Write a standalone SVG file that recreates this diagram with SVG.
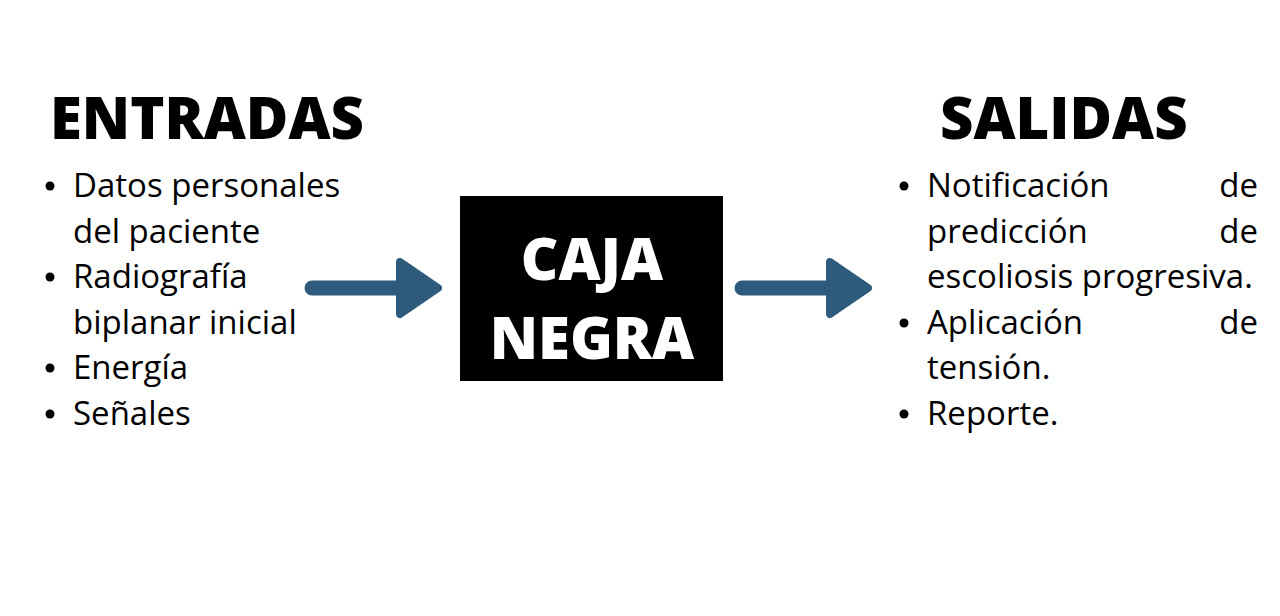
<svg xmlns="http://www.w3.org/2000/svg" width="1280" height="616" viewBox="0 0 1280 616">
<style>
.h{font-family:"Open Sans","Liberation Sans",sans-serif;font-weight:800;font-size:58px;fill:#000}
.t{font-family:"Open Sans","Liberation Sans",sans-serif;font-size:33px;fill:#000}
.c{font-family:"Open Sans","Liberation Sans",sans-serif;font-weight:800;font-size:58px;fill:#fff;text-anchor:middle}
.arrow{fill:#2e5b7c;stroke:#2e5b7c;stroke-linejoin:round;stroke-linecap:round}
</style>
<defs>
<g id="arr">
<line class="arrow" x1="0" y1="0" x2="92" y2="0" stroke-width="15"/>
<polygon class="arrow" points="88,-26 126,0 88,26" stroke-width="8"/>
</g>
</defs>
<rect width="1280" height="616" fill="#fff"/>
<g id="entradas">
<text class="h" x="50" y="139">ENTRADAS</text>
<g class="t">
<circle cx="50" cy="186" r="4.5"/><text x="73" y="197">Datos personales</text>
<text x="73" y="243">del paciente</text>
<circle cx="50" cy="277" r="4.5"/><text x="73" y="288">Radiografía</text>
<text x="73" y="334">biplanar inicial</text>
<circle cx="50" cy="368" r="4.5"/><text x="73" y="379">Energía</text>
<circle cx="50" cy="414" r="4.5"/><text x="73" y="425">Señales</text>
</g>
</g>
<g id="caja">
<rect x="460" y="196" width="263" height="185" fill="#000"/>
<text class="c" x="592" y="280">CAJA</text>
<text class="c" x="592" y="359">NEGRA</text>
</g>
<g id="salidas">
<text class="h" x="940" y="139">SALIDAS</text>
<g class="t">
<circle cx="904" cy="186" r="4.5"/><text x="927" y="197">Notificación</text><text x="1258" y="197" text-anchor="end">de</text>
<text x="927" y="243">predicción</text><text x="1258" y="243" text-anchor="end">de</text>
<text x="927" y="288">escoliosis progresiva.</text>
<circle cx="904" cy="323" r="4.5"/><text x="927" y="334">Aplicación</text><text x="1258" y="334" text-anchor="end">de</text>
<text x="927" y="379">tensión.</text>
<circle cx="904" cy="414" r="4.5"/><text x="927" y="425">Reporte.</text>
</g>
</g>
<g id="connectors">
<use href="#arr" x="312" y="288"/>
<use href="#arr" x="742" y="288"/>
</g>
</svg>
